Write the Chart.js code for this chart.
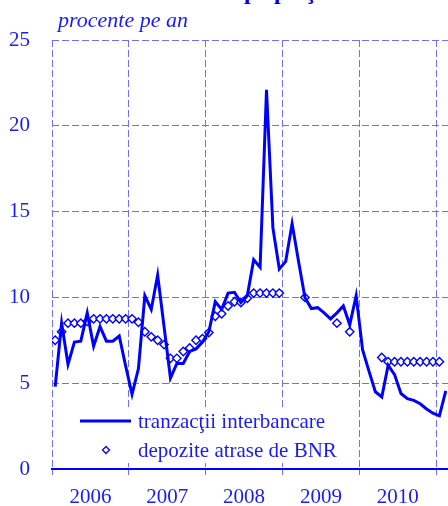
<!DOCTYPE html>
<html>
<head>
<meta charset="utf-8">
<script src="https://cdn.jsdelivr.net/npm/chart.js@4.4.1/dist/chart.umd.min.js"></script>
<style>
  html, body { margin: 0; padding: 0; background: #fff; }
  #wrap { position: relative; width: 448px; height: 506px; overflow: hidden; background: #fff; }
  #chart { position: absolute; left: 0; top: 0; }
  .title { position: absolute; top: -22px; line-height: 24px; white-space: nowrap;
           font: bold 24px "Liberation Serif", "Times New Roman", serif; color: #0000ff; }
  .unit { position: absolute; left: 58px; top: 7px; line-height: 22px; white-space: nowrap;
          font: italic 22px "Liberation Serif", "Times New Roman", serif; color: #1a1aff; }
</style>
</head>
<body>
<div id="wrap">
  <canvas id="chart" width="461" height="506"></canvas>
  <div class="title" style="right: 204px;">Rata dobânzii&nbsp;</div>
  <div class="title" style="left: 244px;">pe piaţa monetară</div>
  <div class="unit">procente pe an</div>
</div>
<script>
// tick labels (one per year, centred in the year)
const years = ["2006", "2007", "2008", "2009", "2010"];

// monthly categories, Jan 2006 - Feb 2011
const months = [];
["2006", "2007", "2008", "2009", "2010", "2011"].forEach((y) => {
  for (let m = 1; m <= 12; m++) months.push(y + "-" + String(m).padStart(2, "0"));
});
months.length = 62;

// tranzactii interbancare (%)
const interbank = [
  4.8, 8.5, 6.1, 7.4, 7.45, 9.1, 7.15, 8.3, 7.45, 7.45, 7.75, 6.0,
  4.35, 5.85, 10.1, 9.3, 11.3, 8.3, 5.3, 6.15, 6.15, 6.85, 7.0, 7.4,
  8.0, 9.75, 9.3, 10.25, 10.3, 9.7, 10.1, 12.2, 11.75, 22.1, 14.05, 11.65,
  12.1, 14.3, 12.1, 10.0, 9.35, 9.4, 9.1, 8.75, 9.1, 9.5, 8.4, 10.1,
  6.95, 5.7, 4.5, 4.2, 6.05, 5.5, 4.4, 4.1, 4.0, 3.8, 3.5, 3.25,
  3.1, 4.55,
];

// depozite atrase de BNR (%), null where there was none
const bnrDeposits = [
  7.5, 8.0, 8.5, 8.5, 8.5, 8.6, 8.75, 8.75, 8.75, 8.75, 8.75, 8.75,
  8.75, 8.55, 8.0, 7.7, 7.5, 7.25, 6.45, 6.45, 6.85, 7.05, 7.5, 7.6,
  7.95, 8.9, 9.05, 9.5, 9.75, 9.7, 9.95, 10.25, 10.25, 10.25, 10.25, 10.25,
  null, null, null, 10.0, null, null, null, null, 8.5, null, 8.0, null,
  null, null, null, 6.5, 6.25, 6.25, 6.25, 6.25, 6.25, 6.25, 6.25, 6.25,
  6.25, null,
];

const yTicks = [0, 5, 10, 15, 20, 25];

const BLUE = "#0000ff";
const TEXT = "#1a1aff";
const GRID = "#6e6eff";
const FONT = { family: "'Liberation Serif', 'Times New Roman', serif", size: 21 };

function toPoints(values) {
  return values.map((v, i) => ({ x: i + 0.5, y: v }));
}

// legend drawn inside the plot, lower left, on a white box
const boxLegend = {
  id: "boxLegend",
  afterDraw(chart) {
    const ctx = chart.ctx;
    const left = chart.chartArea.left;
    const ds = chart.data.datasets;
    ctx.save();
    ctx.fillStyle = "#ffffff";
    ctx.fillRect(left + 5, 407, 293, 56);

    ctx.font = FONT.size + "px " + FONT.family;
    ctx.textBaseline = "alphabetic";

    // line entry
    ctx.strokeStyle = ds[0].borderColor;
    ctx.lineWidth = ds[0].borderWidth;
    ctx.beginPath();
    ctx.moveTo(left + 28, 421);
    ctx.lineTo(left + 79, 421);
    ctx.stroke();
    ctx.fillStyle = TEXT;
    ctx.fillText(ds[0].label, left + 86, 428);

    // marker entry
    const cx = left + 54, cy = 450, r = 3.5;
    ctx.beginPath();
    ctx.moveTo(cx, cy - r);
    ctx.lineTo(cx + r, cy);
    ctx.lineTo(cx, cy + r);
    ctx.lineTo(cx - r, cy);
    ctx.closePath();
    ctx.fillStyle = "#ffffff";
    ctx.fill();
    ctx.lineWidth = 1.3;
    ctx.strokeStyle = ds[1].pointBorderColor;
    ctx.stroke();
    ctx.fillStyle = TEXT;
    ctx.fillText(ds[1].label, left + 86, 457);
    ctx.restore();
  },
};

document.addEventListener("DOMContentLoaded", function () {
  const ctx = document.getElementById("chart");
  new Chart(ctx, {
    type: "line",
    data: {
      datasets: [
        {
          label: "tranzacţii interbancare",
          data: toPoints(interbank),
          borderColor: BLUE,
          borderWidth: 3,
          pointRadius: 0,
          tension: 0,
          fill: false,
        },
        {
          label: "depozite atrase de BNR",
          data: toPoints(bnrDeposits),
          showLine: false,
          pointStyle: "rectRot",
          pointRadius: 4.2,
          pointBorderWidth: 1.4,
          borderColor: BLUE,
          backgroundColor: "#ffffff",
          pointBackgroundColor: "#ffffff",
          pointBorderColor: BLUE,
        },
      ],
    },
    options: {
      responsive: false,
      animation: false,
      layout: { padding: { top: 40, left: 0, right: 0, bottom: 0 } },
      plugins: {
        legend: { display: false },
        tooltip: { enabled: false },
      },
      scales: {
        x: {
          type: "linear",
          min: 0,
          max: 63,
          afterBuildTicks: (s) => {
            s.ticks = [0, 6, 12, 18, 24, 30, 36, 42, 48, 54, 60].map((v) => ({ value: v }));
          },
          afterFit: (s) => {
            s.height = 37;
          },
          grid: {
            color: (c) => (c.tick && c.tick.value % 12 === 0 ? GRID : "transparent"),
            tickColor: (c) => (c.tick && c.tick.value % 12 === 0 ? GRID : "transparent"),
            tickLength: 6,
            lineWidth: 1,
          },
          border: { display: true, color: BLUE, width: 2, dash: [7, 3] },
          ticks: {
            autoSkip: false,
            maxRotation: 0,
            padding: 10,
            color: TEXT,
            font: FONT,
            callback: (v) => (v % 12 === 6 ? years[(v - 6) / 12] : ""),
          },
        },
        y: {
          min: 0,
          max: 25,
          afterBuildTicks: (s) => {
            s.ticks = yTicks.map((v) => ({ value: v }));
          },
          afterFit: (s) => {
            s.width = 52;
          },
          grid: {
            color: (c) => (c.tick && c.tick.value === 0 ? "transparent" : GRID),
            drawTicks: false,
            lineWidth: 1,
          },
          border: { display: false, dash: [7, 3] },
          ticks: {
            padding: 22,
            color: TEXT,
            font: FONT,
          },
        },
      },
    },
    plugins: [boxLegend],
  });
});
</script>
</body>
</html>
